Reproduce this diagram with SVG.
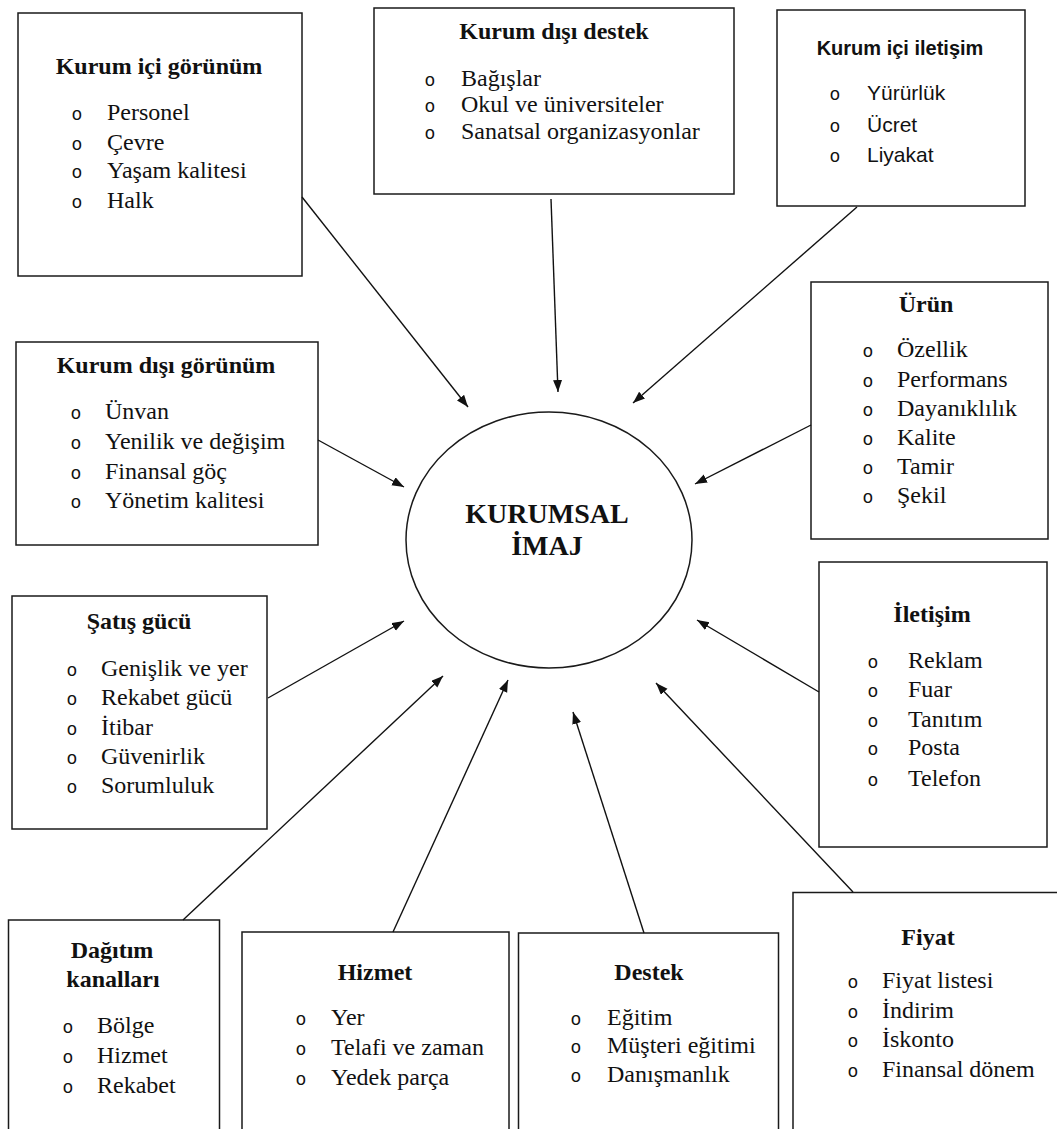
<svg xmlns="http://www.w3.org/2000/svg" width="1057" height="1129" viewBox="0 0 1057 1129">
<style>
.bg{fill:#fff}
.box{fill:#fff;stroke:#1a1a1a;stroke-width:1.5}
.t{font-family:"Liberation Serif","Times New Roman",serif;font-size:24px;fill:#111}
.h{font-weight:bold;text-anchor:middle}
.b{font-family:"Liberation Mono","Courier New",monospace;font-size:18px;text-anchor:middle;fill:#111}
.s{font-family:"Liberation Sans",Arial,sans-serif;font-size:21px}
.sh{font-size:20px}
.c{font-size:28px}
.ln{stroke:#111;stroke-width:1.4;fill:none;marker-end:url(#ah)}
</style>
<defs>
<marker id="ah" markerUnits="userSpaceOnUse" markerWidth="13" markerHeight="10" refX="12" refY="4.5" orient="auto">
<path d="M0,0 L12,4.5 L0,9 z" fill="#111"/>
</marker>
</defs>
<rect class="bg" x="0" y="0" width="1057" height="1129"/>

<g id="kurum-ici-gorunum">
<rect class="box" x="18" y="13" width="284" height="263"/>
<text class="t h" x="159" y="74">Kurum içi görünüm</text>
<text class="b" x="77" y="120">o</text><text class="t" x="107" y="120">Personel</text>
<text class="b" x="77" y="150">o</text><text class="t" x="107" y="150">Çevre</text>
<text class="b" x="77" y="178">o</text><text class="t" x="107" y="178">Yaşam kalitesi</text>
<text class="b" x="77" y="208">o</text><text class="t" x="107" y="208">Halk</text>
</g>

<g id="kurum-disi-destek">
<rect class="box" x="374" y="8" width="360" height="186"/>
<text class="t h" x="554" y="39">Kurum dışı destek</text>
<text class="b" x="430" y="86">o</text><text class="t" x="461" y="86">Bağışlar</text>
<text class="b" x="430" y="112">o</text><text class="t" x="461" y="112">Okul ve üniversiteler</text>
<text class="b" x="430" y="138.5">o</text><text class="t" x="461" y="138.5">Sanatsal organizasyonlar</text>
</g>

<g id="kurum-ici-iletisim">
<rect class="box" x="777" y="10" width="248" height="196"/>
<text class="t s sh h" x="900" y="55">Kurum içi iletişim</text>
<text class="b" x="835" y="100">o</text><text class="t s" x="867" y="100">Yürürlük</text>
<text class="b" x="835" y="132">o</text><text class="t s" x="867" y="132">Ücret</text>
<text class="b" x="835" y="162">o</text><text class="t s" x="867" y="162">Liyakat</text>
</g>

<g id="kurum-disi-gorunum">
<rect class="box" x="16" y="342" width="302" height="203"/>
<text class="t h" x="166" y="373">Kurum dışı görünüm</text>
<text class="b" x="76" y="419">o</text><text class="t" x="105" y="419">Ünvan</text>
<text class="b" x="76" y="449">o</text><text class="t" x="105" y="449">Yenilik ve değişim</text>
<text class="b" x="76" y="479">o</text><text class="t" x="105" y="479">Finansal göç</text>
<text class="b" x="76" y="508">o</text><text class="t" x="105" y="508">Yönetim kalitesi</text>
</g>

<g id="satis-gucu">
<rect class="box" x="12" y="596" width="255" height="233"/>
<text class="t h" x="139" y="629">Şatış gücü</text>
<text class="b" x="72" y="676">o</text><text class="t" x="101" y="676">Genişlik ve yer</text>
<text class="b" x="72" y="705">o</text><text class="t" x="101" y="705">Rekabet gücü</text>
<text class="b" x="72" y="735">o</text><text class="t" x="101" y="735">İtibar</text>
<text class="b" x="72" y="764">o</text><text class="t" x="101" y="764">Güvenirlik</text>
<text class="b" x="72" y="793">o</text><text class="t" x="101" y="793">Sorumluluk</text>
</g>

<g id="urun">
<rect class="box" x="811" y="282" width="237" height="257"/>
<text class="t h" x="926" y="312">Ürün</text>
<text class="b" x="868" y="357">o</text><text class="t" x="897" y="357">Özellik</text>
<text class="b" x="868" y="387">o</text><text class="t" x="897" y="387">Performans</text>
<text class="b" x="868" y="416">o</text><text class="t" x="897" y="416">Dayanıklılık</text>
<text class="b" x="868" y="445">o</text><text class="t" x="897" y="445">Kalite</text>
<text class="b" x="868" y="474">o</text><text class="t" x="897" y="474">Tamir</text>
<text class="b" x="868" y="503">o</text><text class="t" x="897" y="503">Şekil</text>
</g>

<g id="iletisim">
<rect class="box" x="819" y="562" width="228" height="285"/>
<text class="t h" x="932" y="622">İletişim</text>
<text class="b" x="873" y="668">o</text><text class="t" x="908" y="668">Reklam</text>
<text class="b" x="873" y="697">o</text><text class="t" x="908" y="697">Fuar</text>
<text class="b" x="873" y="727">o</text><text class="t" x="908" y="727">Tanıtım</text>
<text class="b" x="873" y="755">o</text><text class="t" x="908" y="755">Posta</text>
<text class="b" x="873" y="786">o</text><text class="t" x="908" y="786">Telefon</text>
</g>

<g id="dagitim-kanallari">
<rect class="box" x="8.5" y="920" width="211" height="220"/>
<text class="t h" x="112" y="958">Dağıtım</text>
<text class="t h" x="113" y="987">kanalları</text>
<text class="b" x="68" y="1033">o</text><text class="t" x="97" y="1033">Bölge</text>
<text class="b" x="68" y="1063">o</text><text class="t" x="97" y="1063">Hizmet</text>
<text class="b" x="68" y="1093">o</text><text class="t" x="97" y="1093">Rekabet</text>
</g>

<g id="hizmet">
<rect class="box" x="242" y="932" width="267" height="210"/>
<text class="t h" x="375" y="980">Hizmet</text>
<text class="b" x="301" y="1025">o</text><text class="t" x="331" y="1025">Yer</text>
<text class="b" x="301" y="1055">o</text><text class="t" x="331" y="1055">Telafi ve zaman</text>
<text class="b" x="301" y="1085">o</text><text class="t" x="331" y="1085">Yedek parça</text>
</g>

<g id="destek">
<rect class="box" x="518.5" y="933" width="260" height="210"/>
<text class="t h" x="649" y="980">Destek</text>
<text class="b" x="576" y="1025">o</text><text class="t" x="607" y="1025">Eğitim</text>
<text class="b" x="576" y="1053">o</text><text class="t" x="607" y="1053">Müşteri eğitimi</text>
<text class="b" x="576" y="1082">o</text><text class="t" x="607" y="1082">Danışmanlık</text>
</g>

<g id="fiyat">
<rect class="box" x="793" y="892.5" width="280" height="250"/>
<text class="t h" x="928" y="945">Fiyat</text>
<text class="b" x="853" y="988">o</text><text class="t" x="882" y="988">Fiyat listesi</text>
<text class="b" x="853" y="1018">o</text><text class="t" x="882" y="1018">İndirim</text>
<text class="b" x="853" y="1047">o</text><text class="t" x="882" y="1047">İskonto</text>
<text class="b" x="853" y="1077">o</text><text class="t" x="882" y="1077">Finansal dönem</text>
</g>

<g id="kurumsal-imaj">
<ellipse class="box" cx="549" cy="540" rx="143" ry="128"/>
<text class="t h c" x="547" y="523">KURUMSAL</text>
<text class="t h c" x="547" y="555">İMAJ</text>
</g>

<g id="connectors">
<line class="ln" x1="302" y1="197" x2="468" y2="407"/>
<line class="ln" x1="551" y1="199" x2="558" y2="392"/>
<line class="ln" x1="857" y1="207" x2="633" y2="403"/>
<line class="ln" x1="318" y1="440" x2="404" y2="487"/>
<line class="ln" x1="268" y1="698" x2="404" y2="621"/>
<line class="ln" x1="811" y1="425" x2="695" y2="484"/>
<line class="ln" x1="819" y1="692" x2="697" y2="620"/>
<line class="ln" x1="183" y1="920" x2="443" y2="676"/>
<line class="ln" x1="393" y1="932" x2="508" y2="680"/>
<line class="ln" x1="644" y1="933" x2="573" y2="712"/>
<line class="ln" x1="853" y1="892" x2="656" y2="683"/>
</g>
</svg>
